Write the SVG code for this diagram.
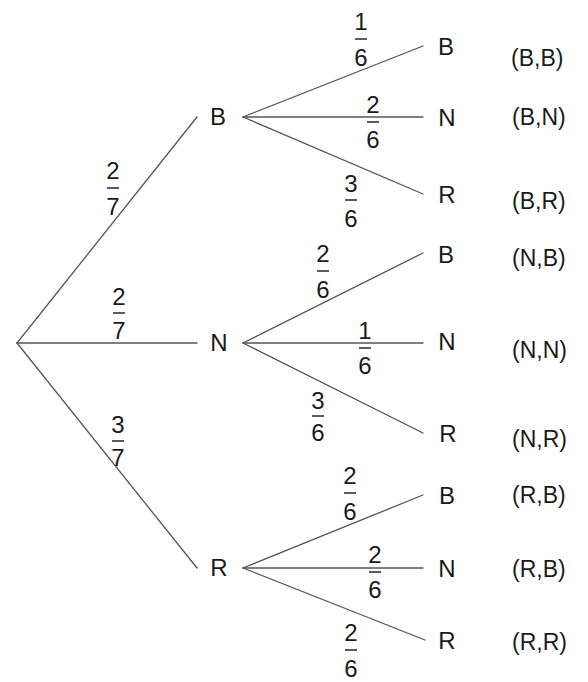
<svg xmlns="http://www.w3.org/2000/svg" width="588" height="682" viewBox="0 0 588 682">
<style>
.e{stroke:#555;stroke-width:1.3;fill:none;stroke-linecap:round}
.t{font-family:"Liberation Sans",Arial,sans-serif;font-size:24px;fill:#1a1a1a;text-anchor:middle}
.p{font-family:"Liberation Sans",Arial,sans-serif;font-size:23px;fill:#1a1a1a}
.f{font-family:"Liberation Sans",Arial,sans-serif;font-size:24px;fill:#1a1a1a;text-anchor:middle}
.bar{stroke:#333;stroke-width:1.6}
</style>
<rect width="588" height="682" fill="#fff"/>
<g id="connectors">
<line class="e" x1="17" y1="343" x2="197" y2="117"/>
<line class="e" x1="17" y1="343" x2="197" y2="343"/>
<line class="e" x1="17" y1="343" x2="197" y2="568"/>
<line class="e" x1="243" y1="117" x2="423" y2="46"/>
<line class="e" x1="243" y1="117" x2="423" y2="117"/>
<line class="e" x1="243" y1="117" x2="423" y2="194"/>
<line class="e" x1="243" y1="343" x2="423" y2="253"/>
<line class="e" x1="243" y1="343" x2="423" y2="343"/>
<line class="e" x1="243" y1="343" x2="423" y2="433"/>
<line class="e" x1="243" y1="568" x2="423" y2="495"/>
<line class="e" x1="243" y1="568" x2="423" y2="568"/>
<line class="e" x1="243" y1="568" x2="425" y2="640"/>
</g>
<g id="fractions">
<g id="f-b"><text class="f" x="113" y="179">2</text><line class="bar" x1="107" y1="188" x2="119" y2="188"/><text class="f" x="113" y="215">7</text></g>
<g id="f-n"><text class="f" x="119" y="305">2</text><line class="bar" x1="113" y1="313" x2="125" y2="313"/><text class="f" x="119" y="339">7</text></g>
<g id="f-r"><text class="f" x="118" y="433">3</text><line class="bar" x1="112" y1="441" x2="124" y2="441"/><text class="f" x="118" y="466">7</text></g>
<g id="f-bb"><text class="f" x="361" y="30">1</text><line class="bar" x1="355" y1="39" x2="367" y2="39"/><text class="f" x="361" y="66">6</text></g>
<g id="f-bn"><text class="f" x="373" y="113">2</text><line class="bar" x1="367" y1="122" x2="379" y2="122"/><text class="f" x="373" y="148">6</text></g>
<g id="f-br"><text class="f" x="351" y="192">3</text><line class="bar" x1="345" y1="200" x2="357" y2="200"/><text class="f" x="351" y="227">6</text></g>
<g id="f-nb"><text class="f" x="323" y="262">2</text><line class="bar" x1="317" y1="271" x2="329" y2="271"/><text class="f" x="323" y="298">6</text></g>
<g id="f-nn"><text class="f" x="365" y="339">1</text><line class="bar" x1="359" y1="348" x2="371" y2="348"/><text class="f" x="365" y="374">6</text></g>
<g id="f-nr"><text class="f" x="318" y="409">3</text><line class="bar" x1="312" y1="416" x2="324" y2="416"/><text class="f" x="318" y="441">6</text></g>
<g id="f-rb"><text class="f" x="350" y="484">2</text><line class="bar" x1="344" y1="493" x2="356" y2="493"/><text class="f" x="350" y="520">6</text></g>
<g id="f-rn"><text class="f" x="375" y="563">2</text><line class="bar" x1="369" y1="572" x2="381" y2="572"/><text class="f" x="375" y="598">6</text></g>
<g id="f-rr"><text class="f" x="351" y="641">2</text><line class="bar" x1="345" y1="650" x2="357" y2="650"/><text class="f" x="351" y="677">6</text></g>
</g>
<g id="node-B"><text class="t" x="218" y="125">B</text></g>
<g id="node-N"><text class="t" x="219" y="351">N</text></g>
<g id="node-R"><text class="t" x="219" y="576">R</text></g>
<g id="leaf-BB"><text class="t" x="446" y="55">B</text></g>
<g id="leaf-BN"><text class="t" x="447" y="126">N</text></g>
<g id="leaf-BR"><text class="t" x="447" y="203">R</text></g>
<g id="leaf-NB"><text class="t" x="446" y="263">B</text></g>
<g id="leaf-NN"><text class="t" x="447" y="350">N</text></g>
<g id="leaf-NR"><text class="t" x="448" y="442">R</text></g>
<g id="leaf-RB"><text class="t" x="447" y="504">B</text></g>
<g id="leaf-RN"><text class="t" x="447" y="577">N</text></g>
<g id="leaf-RR"><text class="t" x="447" y="649">R</text></g>
<g id="outcomes">
<text class="p" x="511" y="66">(B,B)</text>
<text class="p" x="512" y="125">(B,N)</text>
<text class="p" x="512" y="209">(B,R)</text>
<text class="p" x="512" y="266">(N,B)</text>
<text class="p" x="512" y="358">(N,N)</text>
<text class="p" x="512" y="447">(N,R)</text>
<text class="p" x="512" y="503">(R,B)</text>
<text class="p" x="512" y="577">(R,B)</text>
<text class="p" x="512" y="650">(R,R)</text>
</g>
</svg>
